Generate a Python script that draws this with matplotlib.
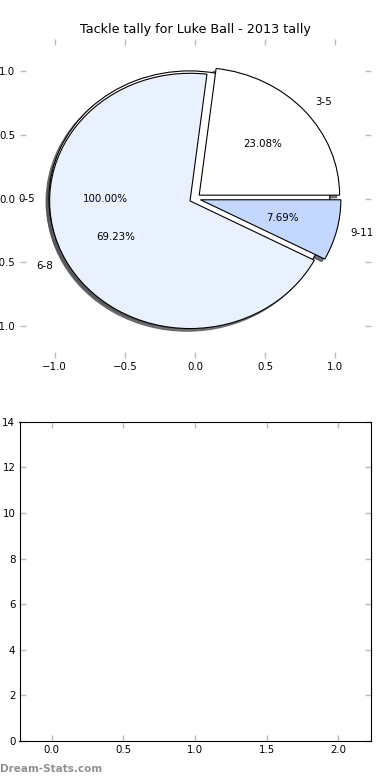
import matplotlib
matplotlib.use('Agg')
import matplotlib.pyplot as plt

# Tackle tally for Luke Ball, 2013 - pie of tackle-count buckets.
FIRST_LABELS = ['0-5']
FIRST_VALUES = [1]
TALLY_LABELS = ['3-5', '6-8', '9-11']
TALLY_VALUES = [3, 9, 1]
SLICE_COLOURS = ['#ffffff', '#eaf1fe', '#c4d8ff']
PIE_TICKS = [-1.0, -0.5, 0.0, 0.5, 1.0]
BAR_YLIM = (0, 14)
BAR_XLIM = (-0.225, 2.225)

plt.rcParams['font.size'] = 7.4

fig = plt.figure(figsize=(3.9, 7.8), dpi=100)
fig.subplots_adjust(left=0.05, right=0.95, top=0.95, bottom=0.05, hspace=0.2)

ax1 = fig.add_subplot(2, 1, 1)
wedge_style = {'linewidth': 0.8, 'edgecolor': 'black'}
# shade is how much darker than the wedge the shadow gets
shadow_style = {'ox': -0.015, 'oy': -0.015, 'shade': 0.65, 'alpha': 0.8}
ax1.pie(FIRST_VALUES, labels=FIRST_LABELS, colors=SLICE_COLOURS[:1],
        explode=[0.04] * len(FIRST_VALUES), autopct='%.2f%%',
        shadow=shadow_style, wedgeprops=wedge_style)
ax1.pie(TALLY_VALUES, labels=TALLY_LABELS, colors=SLICE_COLOURS,
        explode=[0.04] * len(TALLY_VALUES), autopct='%.2f%%',
        shadow=shadow_style, wedgeprops=wedge_style)
ax1.set_aspect('auto')
ax1.set_xlim(-1.25, 1.25)
ax1.set_ylim(-1.25, 1.25)
ax1.set_xticks(PIE_TICKS)
ax1.set_yticks(PIE_TICKS)
ax1.set_frame_on(False)
ax1.set_title('Tackle tally for Luke Ball - 2013 tally', fontsize=9.2, pad=4)

ax2 = fig.add_subplot(2, 1, 2)
ax2.set_xlim(*BAR_XLIM)
ax2.set_ylim(*BAR_YLIM)
for s in ax2.spines.values():
    s.set_linewidth(0.8)

for ax in (ax1, ax2):
    ax.tick_params(direction='in', color='#bbbbbb', length=4, width=1,
                   top=True, right=True, pad=3, labelsize=7.4)

fig.text(0.0, 0.014, 'Dream-Stats.com', color='#909090', fontsize=7.5,
         fontweight='bold', va='center', ha='left')

fig.savefig('out.png', dpi=100)
